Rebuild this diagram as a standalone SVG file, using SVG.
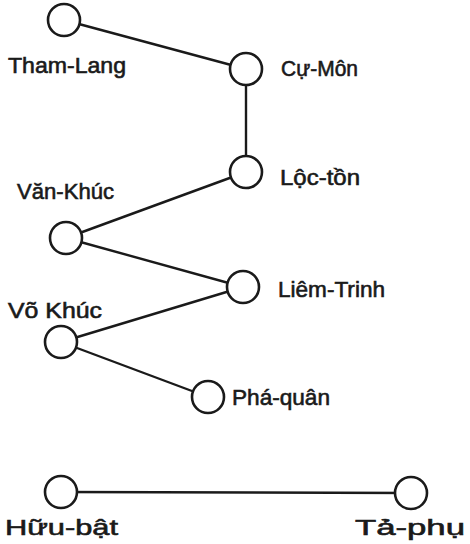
<svg xmlns="http://www.w3.org/2000/svg" width="470" height="544" viewBox="0 0 470 544">
<style>
.n{fill:#fff;stroke:#1a1a1a;stroke-width:2.6}
.e{stroke:#1a1a1a;stroke-width:2.4;fill:none}
text{font-family:"Liberation Sans",Arial,sans-serif;font-size:22px;fill:#1a1a1a;stroke:#1a1a1a;stroke-width:0.6}
</style>
<rect width="470" height="544" fill="#fff"/>
<g id="edges">
<line class="e" x1="64" y1="20" x2="246" y2="69"/>
<line class="e" x1="246" y1="69" x2="246" y2="172"/>
<line class="e" x1="246" y1="172" x2="66" y2="238"/>
<line class="e" x1="66" y1="238" x2="243" y2="287"/>
<line class="e" x1="243" y1="287" x2="61" y2="342"/>
<line class="e" x1="61" y1="342" x2="208" y2="397"/>
<line class="e" x1="61" y1="492" x2="411" y2="493"/>
</g>
<g id="tham-lang"><circle class="n" cx="64" cy="20" r="16"/><text x="8" y="73" textLength="118" lengthAdjust="spacingAndGlyphs">Tham-Lang</text></g>
<g id="cu-mon"><circle class="n" cx="246" cy="69" r="16"/><text x="281" y="76" textLength="77" lengthAdjust="spacingAndGlyphs">Cự-Môn</text></g>
<g id="loc-ton"><circle class="n" cx="246" cy="172" r="16"/><text x="280" y="185" textLength="80" lengthAdjust="spacingAndGlyphs">Lộc-tồn</text></g>
<g id="van-khuc"><circle class="n" cx="66" cy="238" r="16"/><text x="17" y="199" textLength="97" lengthAdjust="spacingAndGlyphs">Văn-Khúc</text></g>
<g id="liem-trinh"><circle class="n" cx="243" cy="287" r="16"/><text x="278" y="297" textLength="107" lengthAdjust="spacingAndGlyphs">Liêm-Trinh</text></g>
<g id="vo-khuc"><circle class="n" cx="61" cy="342" r="16"/><text x="8" y="318" textLength="94" lengthAdjust="spacingAndGlyphs">Võ Khúc</text></g>
<g id="pha-quan"><circle class="n" cx="208" cy="397" r="16"/><text x="232" y="405" textLength="98" lengthAdjust="spacingAndGlyphs">Phá-quân</text></g>
<g id="huu-bat"><circle class="n" cx="61" cy="492" r="16"/><text x="5" y="535" textLength="113" lengthAdjust="spacingAndGlyphs">Hữu-bật</text></g>
<g id="ta-phu"><circle class="n" cx="411" cy="493" r="16"/><text x="355" y="535" textLength="110" lengthAdjust="spacingAndGlyphs">Tả-phụ</text></g>
</svg>
